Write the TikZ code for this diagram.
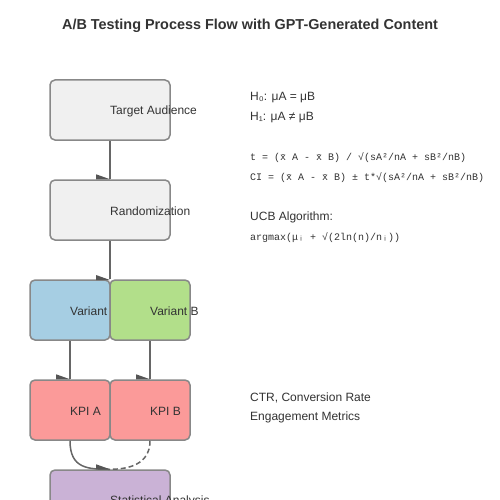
\documentclass[tikz,border=0pt]{standalone}
\usepackage{fontspec}
\setmainfont{Liberation Sans}
\setmonofont{Liberation Mono}
\usetikzlibrary{calc}
\definecolor{txt}{HTML}{333333}
\definecolor{edge}{HTML}{888888}
\definecolor{conn}{HTML}{666666}
\definecolor{tipc}{HTML}{555555}
\definecolor{cgray}{HTML}{F0F0F0}
\definecolor{cblue}{HTML}{A6CEE3}
\definecolor{cgreen}{HTML}{B2DF8A}
\definecolor{cred}{HTML}{FB9A99}
\definecolor{cpurple}{HTML}{CAB2D6}
\tikzset{
  box/.style={draw=edge, line width=1.5pt, rounded corners=5pt, minimum width=#1, minimum height=60pt, inner sep=0pt},
  box/.default=120pt,
  lbl/.style={anchor=west, inner sep=0pt, text=txt, font=\fontsize{12}{14}\selectfont},
  side/.style={anchor=west, inner sep=0pt, text=txt, font=\fontsize{12}{14}\selectfont},
  code/.style={anchor=west, inner sep=0pt, text=txt, font=\ttfamily\fontsize{10}{12}\selectfont},
  conline/.style={draw=conn, line width=1.5pt},
  tipfill/.style={fill=tipc},
}
\newcommand{\halftip}[1]{\fill[tipfill] ($(#1)+(-14,-5)$) -- ($(#1)+(-14,0)$) -- (#1) -- cycle;}
\newcommand{\xbar}{x̄\kern0.6em}
\begin{document}
\begin{tikzpicture}[x=1pt,y=-1pt]
\useasboundingbox (0,0) rectangle (500,500);
\clip (0,0) rectangle (500,500);
\fill[white] (0,0) rectangle (500,500);
% title
\node[text=txt, font=\bfseries\fontsize{14.4}{16}\selectfont] (title) at (250,26) {A/B Testing Process Flow with GPT-Generated Content};
% boxes
\node[box, fill=cgray] (ta) at (110,110) {};
\node[lbl] (taL) at ($(ta.center)+(0,1.5)$) {Target Audience};
\node[box, fill=cgray] (rd) at (110,210) {};
\node[lbl] (rdL) at ($(rd.center)+(0,1.5)$) {Randomization};
\node[box=80pt, fill=cblue] (va) at (70,310) {};
\node[lbl] (vaL) at ($(va.center)+(0,1.5)$) {Variant A};
\node[box=80pt, fill=cgreen] (vb) at (150,310) {};
\node[lbl] (vbL) at ($(vb.center)+(0,1.5)$) {Variant B};
\node[box=80pt, fill=cred] (ka) at (70,410) {};
\node[lbl] (kaL) at ($(ka.center)+(0,1.5)$) {KPI A};
\node[box=80pt, fill=cred] (kb) at (150,410) {};
\node[lbl] (kbL) at ($(kb.center)+(0,1.5)$) {KPI B};
\node[box, fill=cpurple] (sa) at (110,500) {};
\node[lbl] (saL) at ($(sa.center)+(0,1.5)$) {Statistical Analysis};
% connectors
\draw[conline] (ta.south) -- (rd.north);
\halftip{rd.north}
\draw[conline] (rd.south) -- (rd.south |- vb.north);
\coordinate (vtop) at (110,280);
\halftip{vtop}
\draw[conline] (va.south) -- (ka.north);
\halftip{ka.north}
\draw[conline] (vb.south) -- (kb.north);
\halftip{kb.north}
\draw[conline] (ka.south) .. controls ($(ka.south)+(0,28)$) and ($(sa.north)+(-22,0)$) .. (sa.north);
\draw[conline, dashed, dash pattern=on 5pt off 3pt] (kb.south) .. controls ($(kb.south)+(0,24)$) and ($(sa.north)+(18,0)$) .. (sa.north);
\halftip{sa.north}
% side text
\node[side] (h0) at (250,97.5) {H₀: μA = μB};
\node[side] (h1) at (250,117.5) {H₁: μA ≠ μB};
\node[code] (tt) at (250,158) {t = (\xbar A - \xbar B) / √(sA²/nA + sB²/nB)};
\node[code] (ci) at (250,178) {CI = (\xbar A - \xbar B) ± t*√(sA²/nA + sB²/nB)};
\node[side] (ucb) at (250,217.5) {UCB Algorithm:};
\node[code] (am) at (250,238) {argmax(μᵢ + √(2ln(n)/nᵢ))};
\node[side] (ctr) at (250,397.5) {CTR, Conversion Rate};
\node[side] (eng) at (250,417.5) {Engagement Metrics};
\end{tikzpicture}
\end{document}
